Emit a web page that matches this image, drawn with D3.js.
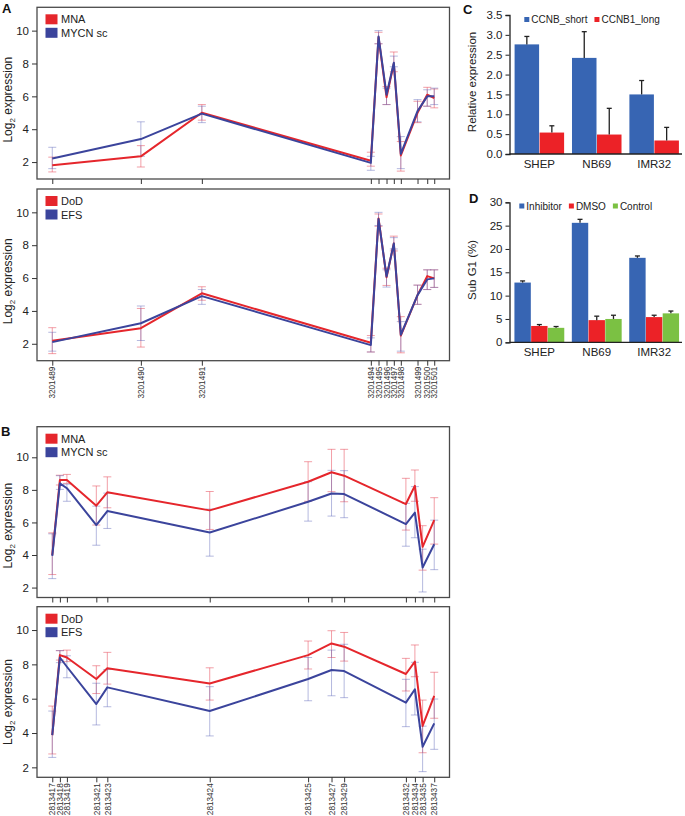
<!DOCTYPE html>
<html><head><meta charset="utf-8">
<script src="https://cdn.jsdelivr.net/npm/d3@7"></script>
<style>
body{margin:0;background:#fff;}
svg{display:block;font-family:"Liberation Sans",Arial,Helvetica,sans-serif;}
</style></head>
<body><svg id="c" width="685" height="816"></svg>
<script>
// ---------- Panel A data (probe IDs, relative genomic positions) ----------
const probesA = ["3201489","3201490","3201491","3201494","3201495","3201496","3201497","3201498","3201499","3201500","3201501"];
const posA = [0, 88.6, 149.6, 318.6, 326.3, 334.3, 341.6, 348.6, 365.3, 375, 382];
const mnaA   = [1.8, 2.35, 5.0, 2.08, 9.6, 5.95, 8.0, 2.4, 5.0, 6.1, 5.9];
const mnaALo = [1.4, 1.7, 4.55, 1.75, 9.2, 5.5, 7.5, 1.45, 4.4, 5.4, 5.3];
const mnaAHi = [2.3, 3.0, 5.5, 2.6, 9.9, 6.6, 8.7, 3.25, 5.7, 6.55, 6.45];
const mycnA   = [2.22, 3.4, 4.95, 1.95, 9.65, 6.1, 8.05, 2.5, 5.1, 6.0, 6.0];
const mycnALo = [1.6, 2.35, 4.4, 1.5, 9.2, 5.5, 7.8, 1.6, 4.45, 5.4, 5.5];
const mycnAHi = [2.9, 4.45, 5.4, 2.35, 10.0, 6.5, 8.45, 3.55, 5.8, 6.4, 6.5];
const dodA   = [2.18, 2.95, 5.07, 2.06, 9.63, 6.05, 8.1, 2.5, 4.96, 6.12, 5.98];
const dodALo = [1.4, 1.8, 4.65, 1.5, 9.15, 5.55, 7.65, 1.45, 4.4, 5.3, 5.43];
const dodAHi = [2.98, 4.15, 5.47, 2.5, 9.9, 6.6, 8.55, 3.65, 5.57, 6.5, 6.5];
const efsA   = [2.1, 3.25, 4.9, 1.92, 9.6, 6.1, 8.1, 2.55, 4.96, 5.92, 5.98];
const efsALo = [1.55, 2.2, 4.4, 1.5, 9.2, 5.45, 7.77, 1.55, 4.4, 5.3, 5.43];
const efsAHi = [2.7, 4.3, 5.3, 2.36, 10.0, 6.5, 8.46, 3.35, 5.57, 6.5, 6.5];

// ---------- Panel B data ----------
const probesB = ["2813417","2813418","2813419","2813421","2813423","2813424","2813425","2813427","2813429","2813432","2813434","2813435","2813437"];
const posB = [0, 7.6, 14.6, 44, 55, 157.3, 255.6, 279, 291.6, 353.3, 362.3, 370, 381.6];
const mnaB   = [4.0, 8.6, 8.6, 7.03, 7.85, 6.74, 8.5, 9.08, 8.87, 7.13, 8.25, 4.5, 6.14];
const mnaBLo = [2.8, 8.3, 8.4, 5.84, 6.9, 5.57, 7.3, 7.89, 7.27, 5.53, 7.3, 3.07, 4.67];
const mnaBHi = [5.36, 8.9, 8.95, 8.24, 8.8, 7.9, 9.73, 10.49, 10.49, 8.71, 9.22, 5.8, 7.52];
const mycnB   = [3.95, 8.4, 8.1, 5.84, 6.7, 5.38, 7.27, 7.78, 7.74, 5.9, 6.6, 3.23, 4.66];
const mycnBLo = [2.55, 8.03, 7.3, 4.6, 5.63, 3.93, 6.08, 6.39, 6.29, 4.54, 5.06, 1.73, 3.1];
const mycnBHi = [5.3, 8.87, 8.35, 7.0, 7.8, 6.82, 8.5, 9.2, 9.18, 7.17, 8.2, 4.36, 6.14];
const dodB   = [3.88, 8.54, 8.4, 7.15, 7.77, 6.89, 8.54, 9.22, 9.03, 7.44, 8.16, 4.41, 6.17];
const dodBLo = [2.78, 8.25, 8.16, 6.3, 6.85, 5.92, 7.73, 8.4, 8.19, 6.45, 7.28, 2.85, 4.86];
const dodBHi = [5.57, 8.8, 8.83, 7.92, 8.7, 7.8, 9.36, 9.96, 9.86, 8.35, 9.13, 5.92, 7.54];
const efsB   = [3.88, 8.4, 7.86, 5.69, 6.66, 5.28, 7.15, 7.67, 7.61, 5.77, 6.55, 3.2, 4.56];
const efsBLo = [2.58, 8.1, 7.22, 4.47, 5.53, 3.83, 5.88, 6.17, 6.06, 4.37, 5.05, 1.75, 3.05];
const efsBHi = [5.28, 8.8, 8.5, 6.9, 7.7, 6.7, 8.4, 8.83, 9.17, 7.13, 8.12, 4.4, 5.98];

const yTicksLine = [2, 4, 6, 8, 10];

// ---------- Panel C / D data ----------
const cellLines = ["SHEP", "NB69", "IMR32"];
const ccnbShort = [2.76, 2.42, 1.50];
const ccnbShortErr = [0.2, 0.66, 0.35];
const ccnb1Long = [0.54, 0.49, 0.34];
const ccnb1LongErr = [0.17, 0.66, 0.33];
const yTicksC = [0, 0.5, 1.0, 1.5, 2.0, 2.5, 3.0, 3.5];

const inhibitor = [12.8, 25.6, 18.1];
const inhibitorErr = [0.35, 0.75, 0.4];
const dmso = [3.5, 4.75, 5.4];
const dmsoErr = [0.3, 0.85, 0.4];
const control = [3.1, 5.0, 6.2];
const controlErr = [0.28, 0.8, 0.5];
const yTicksD = [0, 5, 10, 15, 20, 25, 30];

// ---------- styling ----------
const RED = "#e5262c", BLUE = "#3b449c";
const BAR_BLUE = "#3765b3", BAR_RED = "#ec2227", BAR_GREEN = "#7bc143";

const svg = d3.select("#c");

function linePanel(cfg) {
  const g = svg.append("g");
  const L = 37, R = 449.5;
  const ext = d3.extent(cfg.pos), pad = (ext[1] - ext[0]) * 0.04;
  const x = d3.scaleLinear().domain([ext[0] - pad, ext[1] + pad]).range([L, R]);
  const y = d3.scaleLinear().domain(cfg.yDomain).range([cfg.bottom, cfg.top]);

  cfg.series.forEach(s => {
    const eg = g.append("g").attr("stroke", s.err).attr("stroke-width", 1).attr("fill", "none");
    cfg.pos.forEach((p, i) => {
      const cx = x(p);
      eg.append("line").attr("x1", cx).attr("x2", cx).attr("y1", y(s.lo[i])).attr("y2", y(s.hi[i]));
      eg.append("line").attr("x1", cx - 4).attr("x2", cx + 4).attr("y1", y(s.lo[i])).attr("y2", y(s.lo[i]));
      eg.append("line").attr("x1", cx - 4).attr("x2", cx + 4).attr("y1", y(s.hi[i])).attr("y2", y(s.hi[i]));
    });
  });
  const line = d3.line().x(d => x(d[0])).y(d => y(d[1]));
  cfg.series.forEach(s => {
    g.append("path").datum(cfg.pos.map((p, i) => [p, s.values[i]]))
      .attr("d", line).attr("fill", "none").attr("stroke", s.color)
      .attr("stroke-width", 2).attr("stroke-linejoin", "round");
  });
  g.append("rect").attr("x", L).attr("y", cfg.top).attr("width", R - L).attr("height", cfg.bottom - cfg.top)
    .attr("fill", "none").attr("stroke", "#4a4a4a").attr("stroke-width", 1.3);

  const xa = g.append("g").attr("transform", `translate(0,${cfg.bottom})`)
    .call(d3.axisBottom(x).tickValues(cfg.pos).tickSize(5)
      .tickFormat((d, i) => cfg.showLabels ? cfg.probes[i] : ""));
  xa.select(".domain").remove();
  xa.selectAll(".tick line").attr("stroke", "#333");
  xa.selectAll("text").attr("transform", "rotate(-90)").attr("text-anchor", "end")
    .attr("x", -6).attr("y", 0).attr("dy", "0.33em").attr("font-size", 8.2).attr("fill", "#333");

  const ya = g.append("g").attr("transform", `translate(${L},0)`)
    .call(d3.axisLeft(y).tickValues(yTicksLine).tickSize(5).tickPadding(3));
  ya.select(".domain").remove();
  ya.selectAll(".tick line").attr("stroke", "#333");
  ya.selectAll("text").attr("font-size", 11.5).attr("fill", "#222");

  const t = g.append("text").attr("transform", `translate(12,${y(5.8)}) rotate(-90)`)
    .attr("text-anchor", "middle").attr("font-size", 12).attr("fill", "#222");
  t.append("tspan").text("Log");
  t.append("tspan").text("2").attr("font-size", 8).attr("dy", 3);
  t.append("tspan").text(" expression").attr("dy", -3);

  cfg.series.forEach((s, i) => {
    const yy = cfg.top + 7 + i * 13.5;
    g.append("rect").attr("x", 45.5).attr("y", yy).attr("width", 12).attr("height", 10).attr("fill", s.color);
    g.append("text").attr("x", 61).attr("y", yy + 9).attr("font-size", 11).attr("fill", "#222").text(s.name);
  });
}

linePanel({top: 7.3, bottom: 179, yDomain: [0.97, 11.42], pos: posA, probes: probesA, showLabels: false,
  series: [
    {name: "MNA", color: RED, err: "rgba(232,80,95,0.55)", values: mnaA, lo: mnaALo, hi: mnaAHi},
    {name: "MYCN sc", color: BLUE, err: "rgba(90,100,185,0.45)", values: mycnA, lo: mycnALo, hi: mycnAHi}]});
linePanel({top: 189, bottom: 360.7, yDomain: [0.97, 11.42], pos: posA, probes: probesA, showLabels: true,
  series: [
    {name: "DoD", color: RED, err: "rgba(232,80,95,0.55)", values: dodA, lo: dodALo, hi: dodAHi},
    {name: "EFS", color: BLUE, err: "rgba(90,100,185,0.45)", values: efsA, lo: efsALo, hi: efsAHi}]});
linePanel({top: 426.7, bottom: 597.5, yDomain: [1.39, 11.88], pos: posB, probes: probesB, showLabels: false,
  series: [
    {name: "MNA", color: RED, err: "rgba(232,80,95,0.55)", values: mnaB, lo: mnaBLo, hi: mnaBHi},
    {name: "MYCN sc", color: BLUE, err: "rgba(90,100,185,0.45)", values: mycnB, lo: mycnBLo, hi: mycnBHi}]});
linePanel({top: 606.7, bottom: 777.3, yDomain: [1.42, 11.36], pos: posB, probes: probesB, showLabels: true,
  series: [
    {name: "DoD", color: RED, err: "rgba(232,80,95,0.55)", values: dodB, lo: dodBLo, hi: dodBHi},
    {name: "EFS", color: BLUE, err: "rgba(90,100,185,0.45)", values: efsB, lo: efsBLo, hi: efsBHi}]});

function barPanel(cfg) {
  const g = svg.append("g");
  const L = 509.5;
  const x0 = d3.scaleBand().domain(cellLines).range([L, 684]).paddingInner(0.12).paddingOuter(0.08);
  const keys = cfg.series.map(s => s.name);
  const x1 = d3.scaleBand().domain(keys).range([0, x0.bandwidth()]).padding(0.02);
  const y = d3.scaleLinear().domain([0, d3.max(cfg.ticks)]).range([cfg.bottom, cfg.top]);

  cfg.series.forEach(s => {
    cellLines.forEach((c, i) => {
      const bx = x0(c) + x1(s.name), w = x1.bandwidth(), cx = bx + w / 2;
      g.append("rect").attr("x", bx).attr("y", y(s.values[i])).attr("width", w)
        .attr("height", y(0) - y(s.values[i])).attr("fill", s.color);
      g.append("line").attr("x1", cx).attr("x2", cx).attr("y1", y(s.values[i])).attr("y2", y(s.values[i] + s.err[i]))
        .attr("stroke", "#222").attr("stroke-width", 1.3);
      g.append("line").attr("x1", cx - 2.5).attr("x2", cx + 2.5).attr("y1", y(s.values[i] + s.err[i])).attr("y2", y(s.values[i] + s.err[i]))
        .attr("stroke", "#222").attr("stroke-width", 1.3);
    });
  });

  const ya = g.append("g").attr("transform", `translate(${L},0)`)
    .call(d3.axisLeft(y).tickValues(cfg.ticks).tickSize(4).tickPadding(3).tickFormat(cfg.format));
  ya.select(".domain").attr("stroke", "#222").attr("stroke-width", 1.3);
  ya.selectAll(".tick line").attr("stroke", "#222");
  ya.selectAll("text").attr("font-size", 11.5).attr("fill", "#222");

  g.append("line").attr("x1", L).attr("x2", 682).attr("y1", y(0)).attr("y2", y(0))
    .attr("stroke", "#222").attr("stroke-width", 1.3);

  cellLines.forEach(c => {
    g.append("text").attr("x", x0(c) + x0.bandwidth() / 2).attr("y", cfg.bottom + 14)
      .attr("text-anchor", "middle").attr("font-size", 11.5).attr("fill", "#222").text(c);
  });

  g.append("text").attr("transform", `translate(476,${cfg.labelY}) rotate(-90)`)
    .attr("text-anchor", "middle").attr("font-size", 11.5).attr("fill", "#222").text(cfg.label);

  let lx = cfg.legendX;
  cfg.series.forEach(s => {
    g.append("rect").attr("x", lx).attr("y", cfg.legendY - 6).attr("width", 5).attr("height", 5).attr("fill", s.color);
    const t = g.append("text").attr("x", lx + 7).attr("y", cfg.legendY).attr("font-size", 10).attr("fill", "#222").text(s.name);
    lx += 7 + t.node().getComputedTextLength() + 7;
  });
}

barPanel({top: 15, bottom: 154, ticks: yTicksC, format: d3.format(".1f"), label: "Relative expression", labelY: 82,
  legendX: 524.3, legendY: 23,
  series: [
    {name: "CCNB_short", color: BAR_BLUE, values: ccnbShort, err: ccnbShortErr},
    {name: "CCNB1_long", color: BAR_RED, values: ccnb1Long, err: ccnb1LongErr}]});
barPanel({top: 202.3, bottom: 342.3, ticks: yTicksD, format: d3.format("d"), label: "Sub G1 (%)", labelY: 270,
  legendX: 519.3, legendY: 209.5,
  series: [
    {name: "Inhibitor", color: BAR_BLUE, values: inhibitor, err: inhibitorErr},
    {name: "DMSO", color: BAR_RED, values: dmso, err: dmsoErr},
    {name: "Control", color: BAR_GREEN, values: control, err: controlErr}]});

[["A", 2, 13], ["B", 1, 436], ["C", 463, 14], ["D", 469, 203]].forEach(([t, x, y]) => {
  svg.append("text").attr("x", x).attr("y", y).attr("font-size", 13).attr("font-weight", "bold").attr("fill", "#111").text(t);
});
</script></body></html>
